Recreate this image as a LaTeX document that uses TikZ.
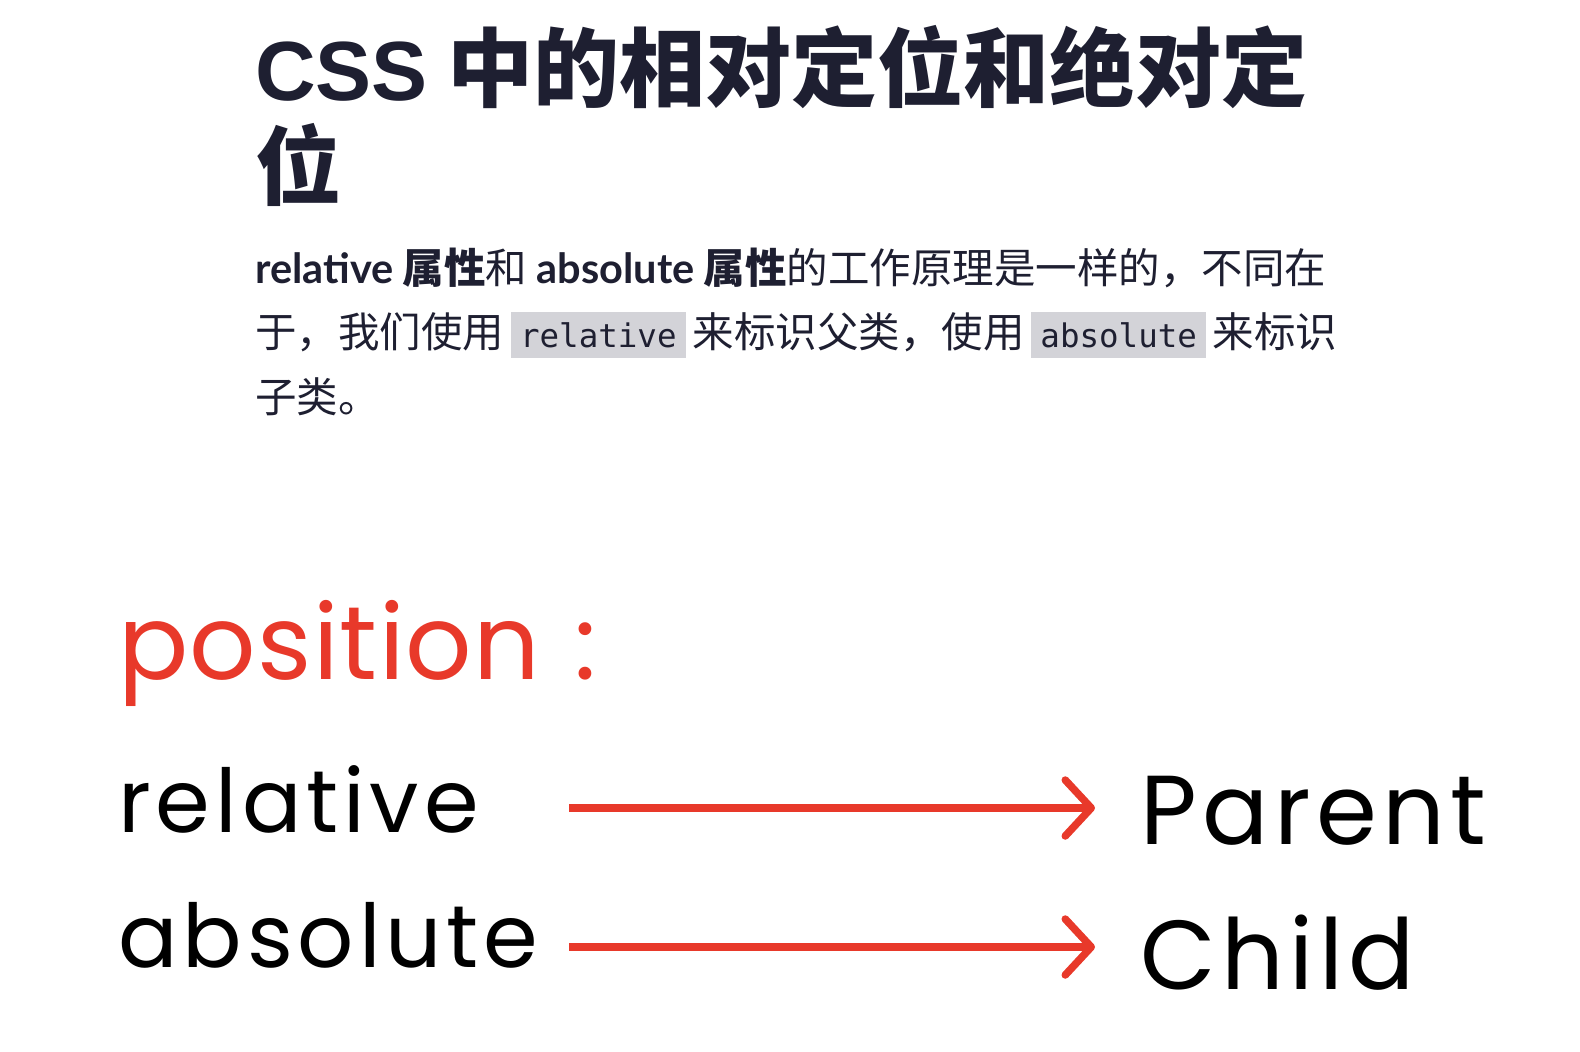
\documentclass[tikz,border=0pt]{standalone}
\usepackage{fontspec}
\setmainfont{Lato}
\newfontfamily\cjkfont{Noto Sans CJK SC}
\newfontfamily\headfont{Liberation Sans}
\newfontfamily\popfont{Poppins}
\newfontfamily\popwide{Poppins}[LetterSpace=5.6]
\newfontfamily\codefont{DejaVu Sans Mono}
\usepackage{tikz}
\usetikzlibrary{positioning, arrows.meta}
\definecolor{inkblue}{HTML}{1E1F31}
\definecolor{posred}{HTML}{E8392A}
\definecolor{codegray}{HTML}{D3D3D8}

\begin{document}
\begin{tikzpicture}[
    x=1pt, y=-1pt,
    titletext/.style={anchor=base west, inner sep=0pt, text=inkblue, font=\cjkfont\bfseries\fontsize{86}{86}\selectfont},
    paratext/.style={anchor=base west, inner sep=0pt, text=inkblue, font=\cjkfont\fontsize{41.5}{41.5}\selectfont},
    codebox/.style={anchor=base west, fill=codegray, inner xsep=9.5pt, inner ysep=0pt, text height=35pt, text depth=11pt, text=inkblue, font=\codefont\fontsize{32.5}{32.5}\selectfont},
    poslabel/.style={anchor=base west, inner sep=0pt, text=posred, font=\popfont\fontsize{104}{104}\selectfont},
    keyword/.style={anchor=base west, inner sep=0pt, text=black, font=\popwide\fontsize{88}{88}\selectfont},
    target/.style={anchor=base west, inner sep=0pt, text=black, font=\popwide\fontsize{98}{98}\selectfont},
    link/.style={draw=posred, line width=7.5pt, shorten >=45pt, -{Straight Barb[length=26pt, width=56pt, round]}}
]
    \useasboundingbox (0,0) rectangle (1580,1052);

    % heading
    \node[titletext] (title1) at (255,100) {{\headfont\fontsize{84}{84}\selectfont CSS} 中的相对定位和绝对定};
    \node[titletext] (title2) at (255,198) {位};

    % paragraph
    \node[paratext] (line1) at (255,283)
        {{\rmfamily\bfseries relative} {\bfseries 属性}和 {\rmfamily\bfseries absolute} {\bfseries 属性}的工作原理是一样的，不同在};
    \node[paratext] (line2a) at (255,347) {于，我们使用};
    \node[codebox] (code1) at ([xshift=6pt]line2a.base east) {relative};
    \node[paratext] (line2b) at ([xshift=6pt]code1.base east) {来标识父类，使用};
    \node[codebox] (code2) at ([xshift=6pt]line2b.base east) {absolute};
    \node[paratext] (line2c) at ([xshift=6pt]code2.base east) {来标识};
    \node[paratext] (line3) at (255,412) {子类。};

    % position diagram
    \node[poslabel] (position) at (118,679) {{\addfontfeature{LetterSpace=1.2}position}\hspace{34pt}:};
    \node[keyword] (relative) at (118,832) {relative};
    \node[keyword] (absolute) at (118,967) {absolute};
    \node[target] (parent) at (1140,844) {Parent};
    \node[target] (child) at (1140,989) {Child};

    \coordinate (relfrom) at (569,808);
    \coordinate (absfrom) at (569,947);
    \draw[link] (relfrom) -- (relfrom -| parent.west);
    \draw[link] (absfrom) -- (absfrom -| child.west);
\end{tikzpicture}
\end{document}
